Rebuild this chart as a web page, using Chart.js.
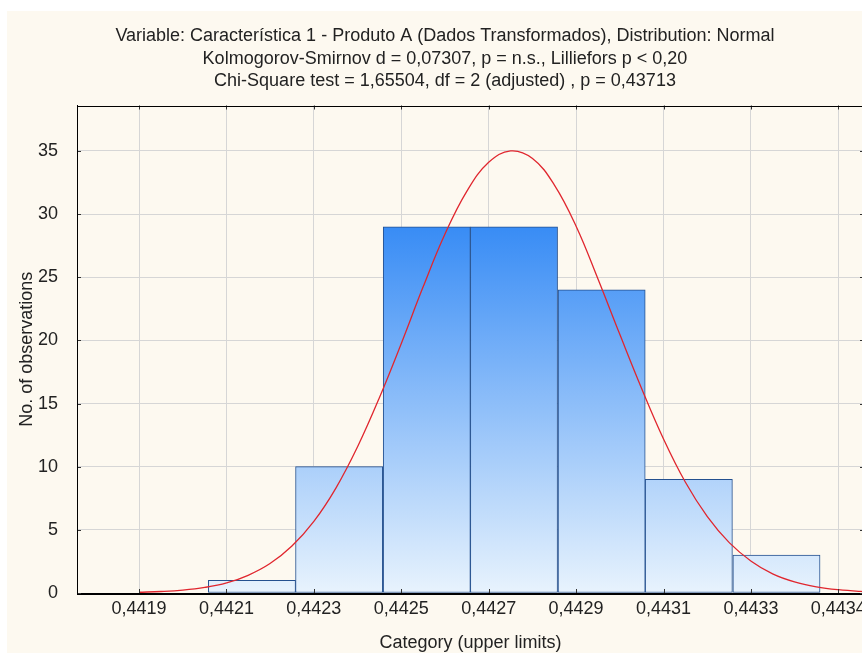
<!DOCTYPE html>
<html lang="pt">
<head>
  <meta charset="UTF-8" />
  <title>Histograma - Característica 1</title>
  <script src="https://cdn.jsdelivr.net/npm/chart.js"></script>
  <style>
    html, body { margin: 0; padding: 0; background: #fff; overflow: hidden; }
    #wrap { position: absolute; left: 7px; top: 11px; width: 876px; height: 642px; background: #fdf9f0; }
  </style>
</head>
<body>
  <div id="wrap"><canvas id="histChart" width="876" height="650"></canvas></div>

  <script>
    // x axis ticks (category upper limits) and their printed labels
    const tickValues = [0.4419, 0.4420875, 0.442275, 0.4424625, 0.44265, 0.4428375, 0.443025, 0.4432125, 0.4434];
    const tickLabels = ["0,4419", "0,4421", "0,4423", "0,4425", "0,4427", "0,4429", "0,4431", "0,4433", "0,4434"];

    // histogram bins
    const binWidth = 0.0001875;
    const binUpper = [0.442236, 0.442423, 0.442611, 0.442798, 0.442986, 0.443173, 0.443361];
    const counts = [1, 10, 29, 29, 24, 9, 3];

    // fitted normal curve
    const curveX = [0.441900, 0.441947, 0.441994, 0.442041, 0.442088, 0.442134, 0.442181, 0.442228,
                    0.442275, 0.442322, 0.442369, 0.442416, 0.442463, 0.442509, 0.442556, 0.442603,
                    0.442650, 0.442697, 0.442744, 0.442791, 0.442838, 0.442884, 0.442931, 0.442978,
                    0.443025, 0.443072, 0.443119, 0.443166, 0.443213, 0.443259, 0.443306, 0.443353,
                    0.443400, 0.443447, 0.443494];
    const curveY = [0.06, 0.12, 0.23, 0.44, 0.80, 1.40, 2.33, 3.72,
                    5.67, 8.29, 11.6, 15.5, 19.8, 24.2, 28.4, 31.8,
                    34.1, 35.0, 34.4, 32.3, 29.0, 24.9, 20.5, 16.2,
                    12.2, 8.77, 6.05, 3.99, 2.52, 1.52, 0.88, 0.49,
                    0.26, 0.13, 0.06];

    const yTicks = [0, 5, 10, 15, 20, 25, 30, 35];

    const font = "'Liberation Sans', Arial, sans-serif";

    function barFill(ctx) {
      const chart = ctx.chart;
      const area = chart.chartArea;
      if (!area) return "#6aaaf7";
      const top = chart.scales.y.getPixelForValue(Math.max(...counts));
      const g = chart.ctx.createLinearGradient(0, top, 0, area.bottom);
      g.addColorStop(0, "#388cf5");
      g.addColorStop(1, "#e8f3fd");
      return g;
    }

    // short inward tick marks on all four sides, like the original
    const innerTicks = {
      id: "innerTicks",
      afterDatasetsDraw(chart) {
        const { ctx, chartArea: a, scales } = chart;
        const len = 4;
        ctx.save();
        ctx.strokeStyle = "#333";
        ctx.lineWidth = 1;
        ctx.beginPath();
        tickValues.forEach(v => {
          const x = Math.round(scales.x.getPixelForValue(v)) + 0.5;
          ctx.moveTo(x, a.bottom); ctx.lineTo(x, a.bottom - len);
          ctx.moveTo(x, a.top); ctx.lineTo(x, a.top + len);
        });
        yTicks.forEach(v => {
          const y = Math.round(scales.y.getPixelForValue(v)) + 0.5;
          ctx.moveTo(a.left, y); ctx.lineTo(a.left + len, y);
          ctx.moveTo(a.right, y); ctx.lineTo(a.right - len, y);
        });
        ctx.stroke();
        ctx.strokeStyle = "#000";
        ctx.strokeRect(Math.round(a.left) + 0.5, Math.round(a.top) + 0.5, Math.round(a.width), Math.round(a.height));
        ctx.restore();
      }
    };

    new Chart(document.getElementById("histChart"), {
      type: "bar",
      data: {
        datasets: [
          {
            type: "line",
            data: curveX.map((x, i) => ({ x: x, y: curveY[i] })),
            borderColor: "#e0262e",
            borderWidth: 1.3,
            pointRadius: 0,
            tension: 0.4,
            fill: false,
            order: 0
          },
          {
            type: "bar",
            data: binUpper.map((u, i) => ({ x: u - binWidth / 2, y: counts[i] })),
            backgroundColor: barFill,
            borderColor: "#24508f",
            borderWidth: 1,
            borderSkipped: false,
            barPercentage: 1,
            categoryPercentage: 1,
            order: 1
          }
        ]
      },
      options: {
        responsive: false,
        animation: false,
        layout: { padding: { left: 0, right: 0, top: 0, bottom: 9 } },
        plugins: {
          legend: { display: false },
          tooltip: { enabled: false },
          title: {
            display: true,
            text: [
              "Variable: Característica 1 - Produto A (Dados Transformados), Distribution: Normal",
              "Kolmogorov-Smirnov d = 0,07307, p = n.s., Lilliefors p < 0,20",
              "Chi-Square test = 1,65504, df = 2 (adjusted) , p = 0,43713"
            ],
            color: "#222",
            font: { family: font, size: 18, weight: "normal", lineHeight: 1.25 },
            padding: { top: 14, bottom: 13 }
          }
        },
        scales: {
          x: {
            type: "linear",
            min: 0.441767,
            max: 0.443455,
            offset: false,
            afterBuildTicks: axis => { axis.ticks = tickValues.map(v => ({ value: v })); },
            ticks: {
              color: "#222",
              font: { family: font, size: 18, lineHeight: 1 },
              maxRotation: 0,
              autoSkip: false,
              padding: 7,
              callback: (v, i) => tickLabels[i]
            },
            grid: { color: "#d6d6d6", drawTicks: false, offset: false },
            border: { color: "#000", width: 1 },
            title: {
              display: true,
              text: "Category (upper limits)",
              color: "#222",
              font: { family: font, size: 18, lineHeight: 1 },
              padding: { top: 9, bottom: 0 }
            }
          },
          y: {
            min: 0,
            max: 38.6,
            afterBuildTicks: axis => { axis.ticks = yTicks.map(v => ({ value: v })); },
            afterFit: axis => { axis.width = 70; },
            ticks: {
              color: "#222",
              font: { family: font, size: 18 },
              padding: 19
            },
            grid: { color: "#d6d6d6", drawTicks: false },
            border: { color: "#000", width: 1 },
            title: {
              display: true,
              text: "No. of observations",
              color: "#222",
              font: { family: font, size: 18 },
              padding: { top: 9, bottom: 0 }
            }
          },
          // empty strip on the right so the title centres like the original
          yRight: {
            position: "right",
            display: true,
            afterFit: axis => { axis.width = 19; },
            ticks: { display: false },
            grid: { display: false, drawTicks: false },
            border: { display: false }
          }
        }
      },
      plugins: [innerTicks]
    });
  </script>
</body>
</html>
